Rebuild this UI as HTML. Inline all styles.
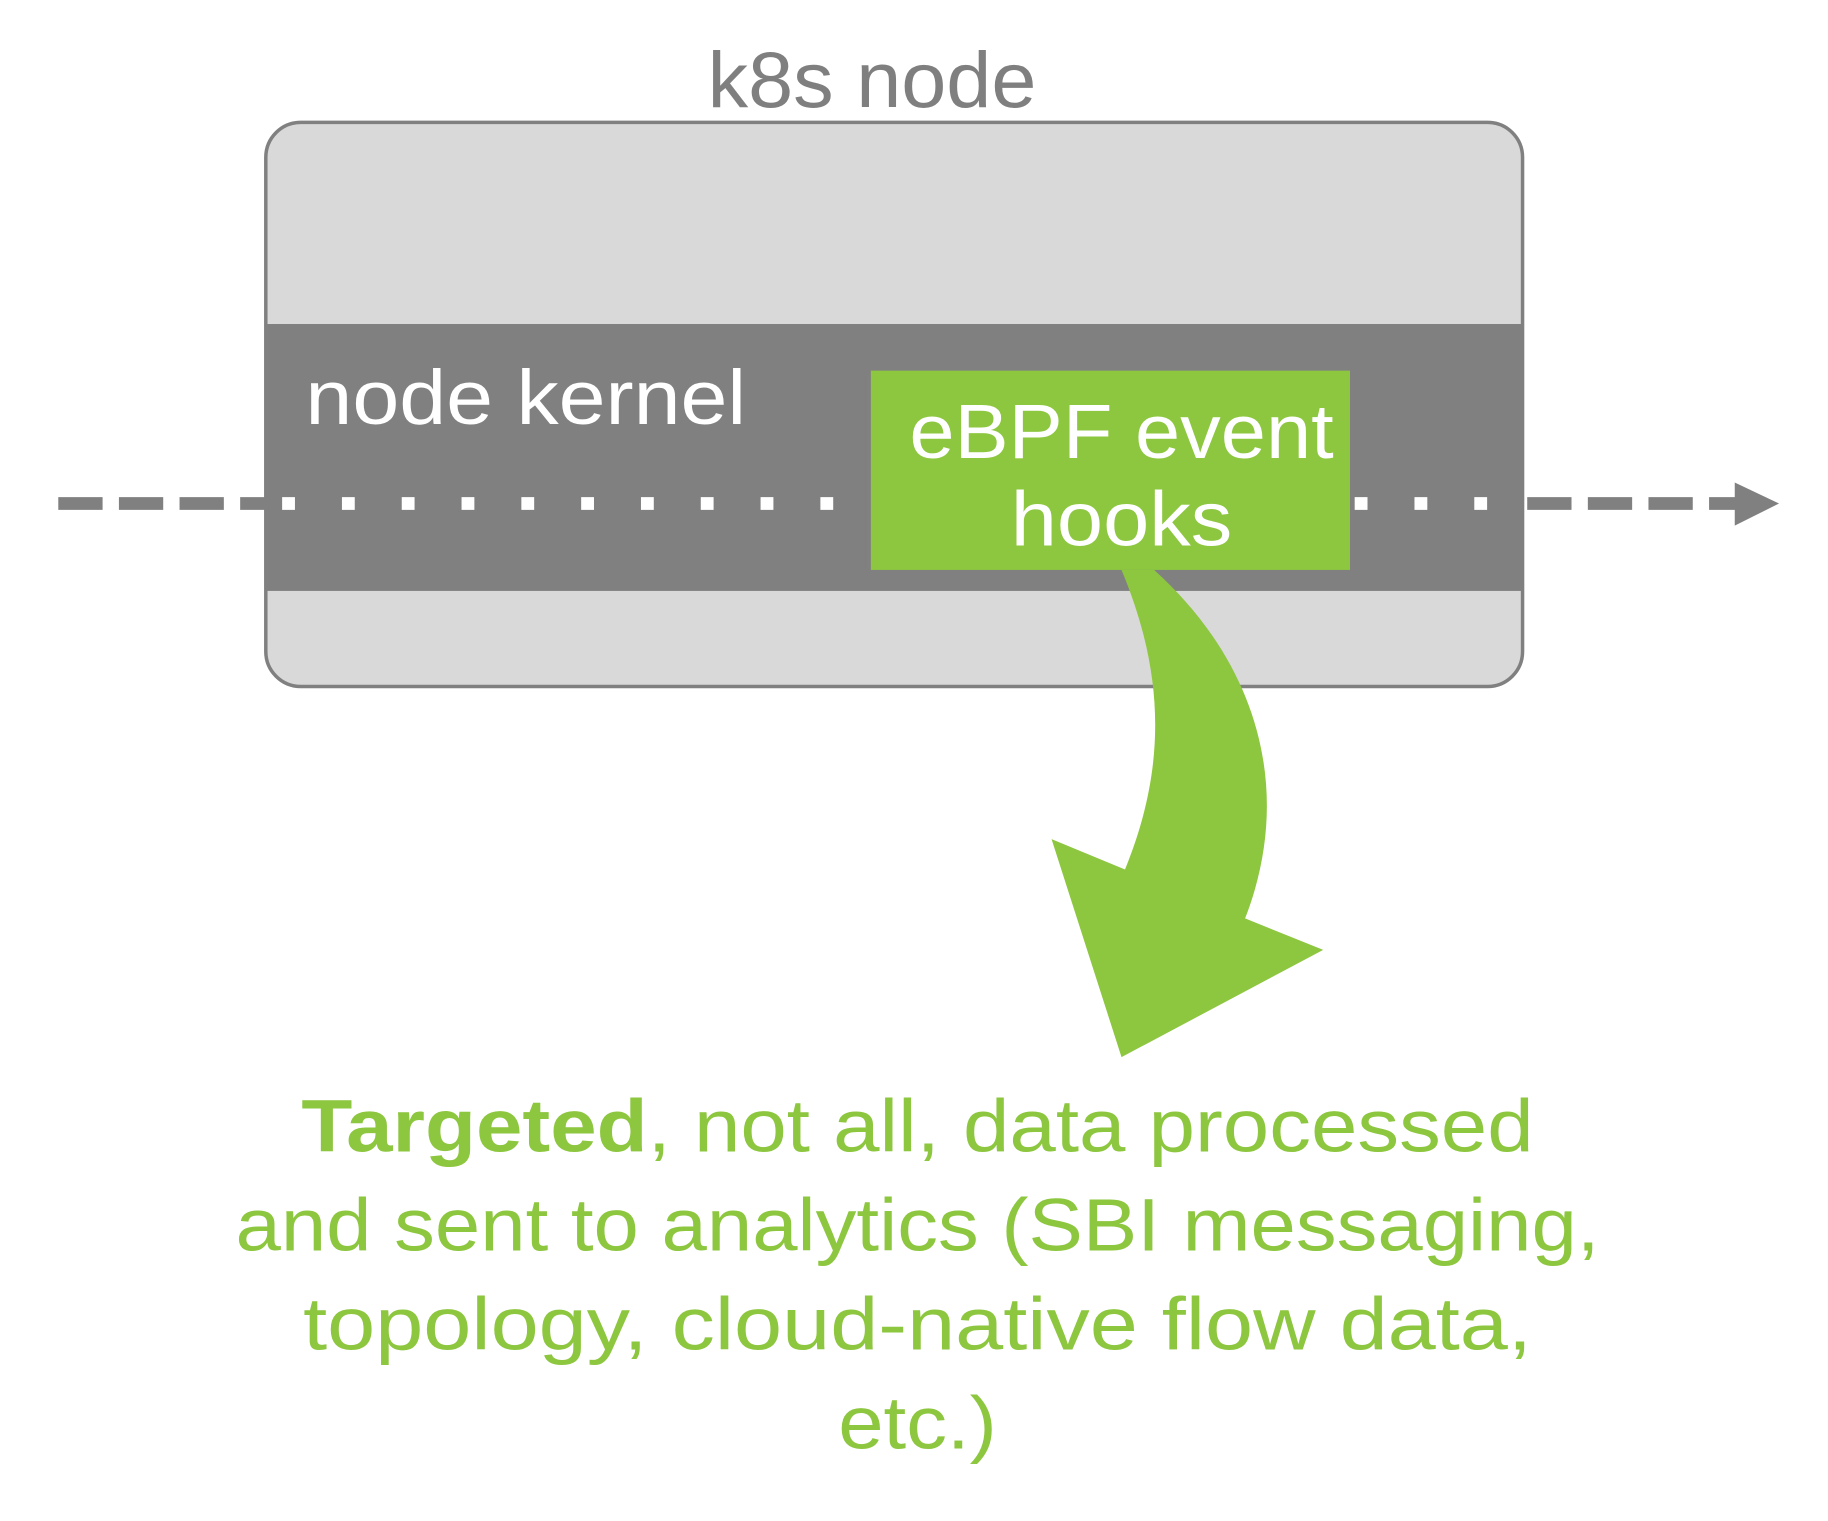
<!DOCTYPE html>
<html><head><meta charset="utf-8"><style>
html,body{margin:0;padding:0;background:#fff;}
svg{display:block;}
text{font-family:"Liberation Sans",sans-serif;}
</style></head><body>
<svg width="1828" height="1521" viewBox="0 0 1568 1305" preserveAspectRatio="none" xmlns="http://www.w3.org/2000/svg">
<rect width="1568" height="1305" fill="#fff"/>
<text x="748" y="92" font-size="68" fill="#7f7f7f" text-anchor="middle" textLength="282" lengthAdjust="spacingAndGlyphs">k8s node</text>
<rect x="228" y="105" width="1078" height="484" rx="30" fill="#d9d9d9" stroke="#808080" stroke-width="3"/>
<rect x="229" y="278" width="1076" height="229" fill="#808080"/>
<text x="262" y="364" font-size="66" fill="#fff" textLength="378" lengthAdjust="spacingAndGlyphs">node kernel</text>
<!-- dashed line outside -->
<line x1="50" y1="432" x2="228" y2="432" stroke="#808080" stroke-width="11" stroke-dasharray="38,14"/>
<line x1="1310" y1="432" x2="1492" y2="432" stroke="#808080" stroke-width="11" stroke-dasharray="38,14"/>
<polygon points="1488,414 1526,432 1488,451" fill="#808080"/>
<!-- dotted white -->
<line x1="242" y1="432" x2="715" y2="432" stroke="#fff" stroke-width="11" stroke-dasharray="11,40.3"/>
<line x1="1162" y1="432" x2="1290" y2="432" stroke="#fff" stroke-width="11" stroke-dasharray="11,40.3"/>
<rect x="747" y="318" width="411" height="171" fill="#8dc63f"/>
<text x="962" y="393" font-size="66" fill="#fff" text-anchor="middle" textLength="364" lengthAdjust="spacingAndGlyphs">eBPF event</text>
<text x="962" y="468" font-size="66" fill="#fff" text-anchor="middle" textLength="190" lengthAdjust="spacingAndGlyphs">hooks</text>
<path d="M962,489 C1000,580 1000,660 965,746 L902,720 L962,907 L1135,815 L1068,788 C1110,680 1080,570 990,489 Z" fill="#8dc63f"/>
<g fill="#8dc63f" font-size="64" text-anchor="middle">
<text x="787" y="988" textLength="1057" lengthAdjust="spacingAndGlyphs"><tspan font-weight="bold">Targeted</tspan>, not all, data processed</text>
<text x="787" y="1073" textLength="1170" lengthAdjust="spacingAndGlyphs">and sent to analytics (SBI messaging,</text>
<text x="787" y="1158" textLength="1054" lengthAdjust="spacingAndGlyphs">topology, cloud-native flow data,</text>
<text x="787" y="1243" textLength="136" lengthAdjust="spacingAndGlyphs">etc.)</text>
</g>
</svg>
</body></html>
